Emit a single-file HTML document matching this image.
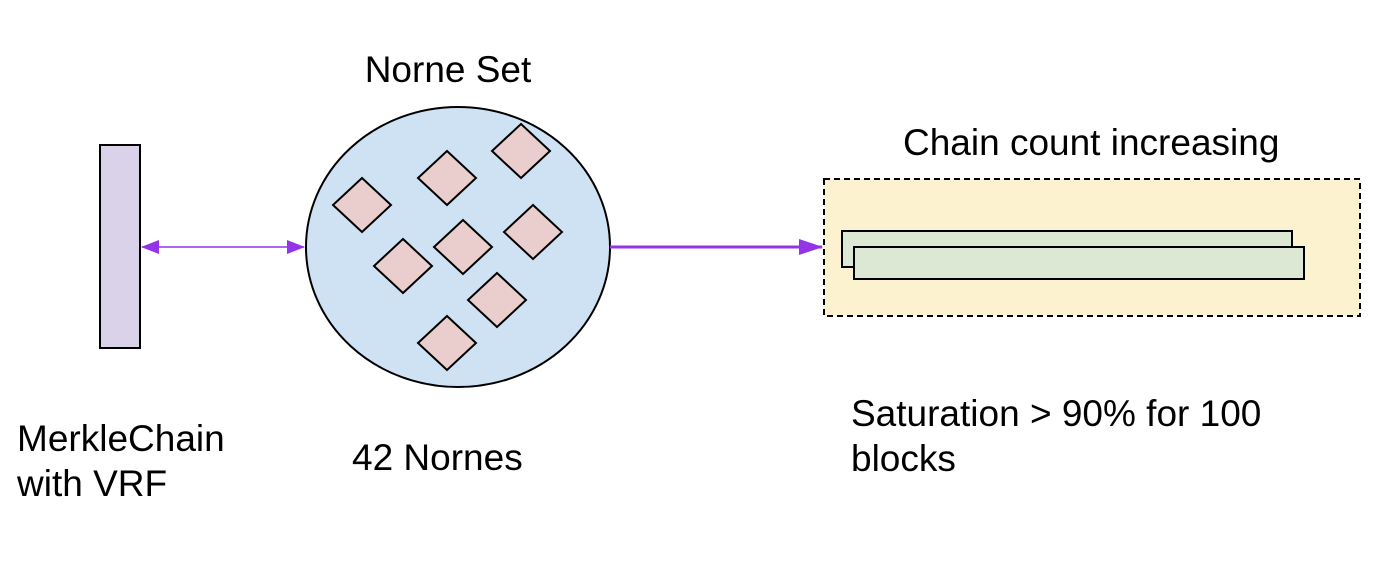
<!DOCTYPE html>
<html><head><style>body{margin:0;background:#fff}svg{display:block}text{font-family:"Liberation Sans",Arial,sans-serif;font-size:37px;fill:#000}</style></head><body>
<svg width="1400" height="582" viewBox="0 0 1400 582" xmlns="http://www.w3.org/2000/svg">
<defs>
<marker id="b" markerWidth="24" markerHeight="16" refX="23" refY="8" orient="auto" markerUnits="userSpaceOnUse"><path d="M0,0 L24,8 L0,16 z" fill="#9334e6"/></marker>
<marker id="c" markerWidth="18" markerHeight="14" refX="17" refY="7" orient="auto-start-reverse" markerUnits="userSpaceOnUse"><path d="M0,0 L18,7 L0,14 z" fill="#9334e6"/></marker>
</defs>
<rect x="100" y="145" width="40" height="203" fill="#d9d2e9" stroke="#000" stroke-width="2"/>
<line x1="142" y1="247" x2="304" y2="247" stroke="#9334e6" stroke-width="1.5" marker-end="url(#c)" marker-start="url(#c)"/>
<ellipse cx="458" cy="247" rx="152" ry="140" fill="#cfe2f3" stroke="#000" stroke-width="2"/>
<g fill="#eacecd" stroke="#000" stroke-width="2">
<path d="M362,178 L391,205 L362,232 L333,205 z"/>
<path d="M447,151 L476,178 L447,205 L418,178 z"/>
<path d="M521,124 L550,151 L521,178 L492,151 z"/>
<path d="M533,205 L562,232 L533,259 L504,232 z"/>
<path d="M463,220 L492,247 L463,274 L434,247 z"/>
<path d="M403,239 L432,266 L403,293 L374,266 z"/>
<path d="M497,273 L526,300 L497,327 L468,300 z"/>
<path d="M447,316 L476,343 L447,370 L418,343 z"/>
</g>
<line x1="610" y1="247" x2="822" y2="247" stroke="#9334e6" stroke-width="3" marker-end="url(#b)"/>
<rect x="824" y="179" width="536" height="137" fill="#fcf2d0" stroke="#000" stroke-width="2" stroke-dasharray="6,4"/>
<rect x="842" y="231" width="450" height="36" fill="#dce8d4" stroke="#000" stroke-width="2"/>
<rect x="854" y="247" width="450" height="32" fill="#dce8d4" stroke="#000" stroke-width="2"/>
<text x="448" y="82" text-anchor="middle">Norne Set</text>
<text x="903" y="155">Chain count increasing</text>
<text x="17" y="451">MerkleChain</text>
<text x="17" y="496">with VRF</text>
<text x="352" y="470">42 Nornes</text>
<text x="851" y="426">Saturation &gt; 90% for 100</text>
<text x="851" y="471">blocks</text>
</svg>
</body></html>
